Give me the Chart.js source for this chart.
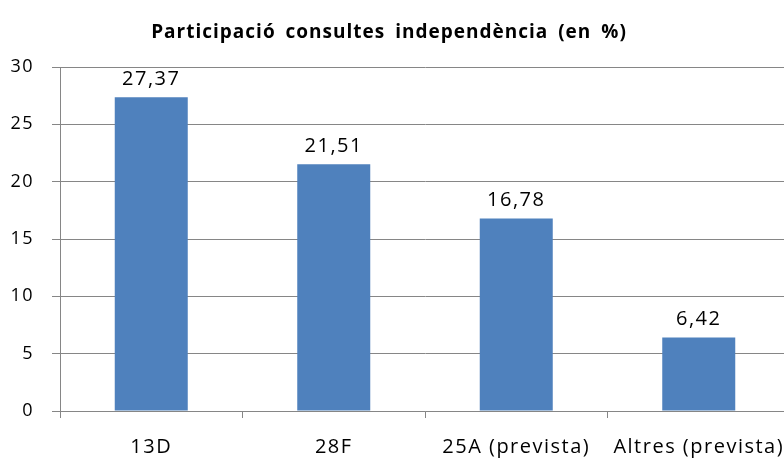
<!DOCTYPE html>
<html>
<head>
<meta charset="utf-8">
<script src="https://cdn.jsdelivr.net/npm/chart.js@4/dist/chart.umd.min.js"></script>
<style>
  html, body { margin: 0; padding: 0; background: #fff; overflow: hidden; }
  #wrap { width: 792px; height: 466px; }
</style>
</head>
<body>
<div id="wrap"><canvas id="mainChart" width="792" height="466"></canvas></div>
<script>
// values
var categories = ["13D", "28F", "25A (prevista)", "Altres (prevista)"];
var participacio = [27.37, 21.51, 16.78, 6.42];
var yTicks = [0, 5, 10, 15, 20, 25, 30];
var titleText = "Participació consultes independència (en %)";

var FONT = "'Open Sans', sans-serif";

// wide Calibri-like spacing for the axis text
var spacing = {
  id: 'spacing',
  beforeDraw: function(chart) { chart.ctx.letterSpacing = "1.5px"; },
  afterDraw: function(chart) { chart.ctx.letterSpacing = "0px"; }
};

// title, drawn by hand so it can get the same wide spacing
var titlePlugin = {
  id: 'titlePlugin',
  afterDraw: function(chart) {
    var ctx = chart.ctx;
    ctx.save();
    ctx.font = "bold 19px " + FONT;
    ctx.letterSpacing = "1px";
    ctx.wordSpacing = "4px";
    ctx.fillStyle = "#000";
    ctx.textAlign = "center";
    ctx.textBaseline = "middle";
    ctx.fillText(titleText, 389, 33);
    ctx.restore();
  }
};

// draws the numbers above each bar, with a comma decimal
var valueLabels = {
  id: 'valueLabels',
  afterDatasetsDraw: function(chart) {
    var ctx = chart.ctx;
    var meta = chart.getDatasetMeta(0);
    ctx.save();
    ctx.font = "20px " + FONT;
    ctx.letterSpacing = "1.5px";
    ctx.fillStyle = "#000";
    ctx.textAlign = "center";
    ctx.textBaseline = "middle";
    meta.data.forEach(function(bar, i) {
      var txt = participacio[i].toFixed(2).replace(".", ",");
      ctx.fillText(txt, bar.x, bar.y - 18);
    });
    ctx.restore();
  }
};

var data = {
  labels: categories,
  datasets: [{
    label: "Participació",
    backgroundColor: "#4F81BD",
    data: participacio,
    barPercentage: 0.8,
    categoryPercentage: 0.5
  }]
};

var options = {
  responsive: false,
  animation: false,
  layout: { padding: { left: 0, right: 2, bottom: 0, top: 67 } },
  plugins: {
    legend: { display: false },
    tooltip: { enabled: false },
    title: { display: false }
  },
  scales: {
    x: {
      grid: { offset: true, drawOnChartArea: false, drawTicks: true, tickLength: 7, color: "#868686" },
      border: { color: "#868686", width: 1 },
      ticks: { color: "#000", font: { family: FONT, size: 20 }, padding: 17, maxRotation: 0, autoSkip: false },
      afterFit: function(scale) { scale.height = 55; }
    },
    y: {
      min: 0,
      max: 30,
      afterBuildTicks: function(scale) {
        scale.ticks = yTicks.map(function(v) { return { value: v }; });
      },
      grid: { color: "#868686", tickLength: 8 },
      border: { color: "#868686", width: 1 },
      ticks: { color: "#000", font: { family: FONT, size: 18 }, padding: 18 },
      afterFit: function(scale) { scale.width = 60; }
    }
  }
};

var ctx = document.getElementById("mainChart");
new Chart(ctx, { type: 'bar', data: data, options: options, plugins: [spacing, valueLabels, titlePlugin] });
</script>
</body>
</html>
